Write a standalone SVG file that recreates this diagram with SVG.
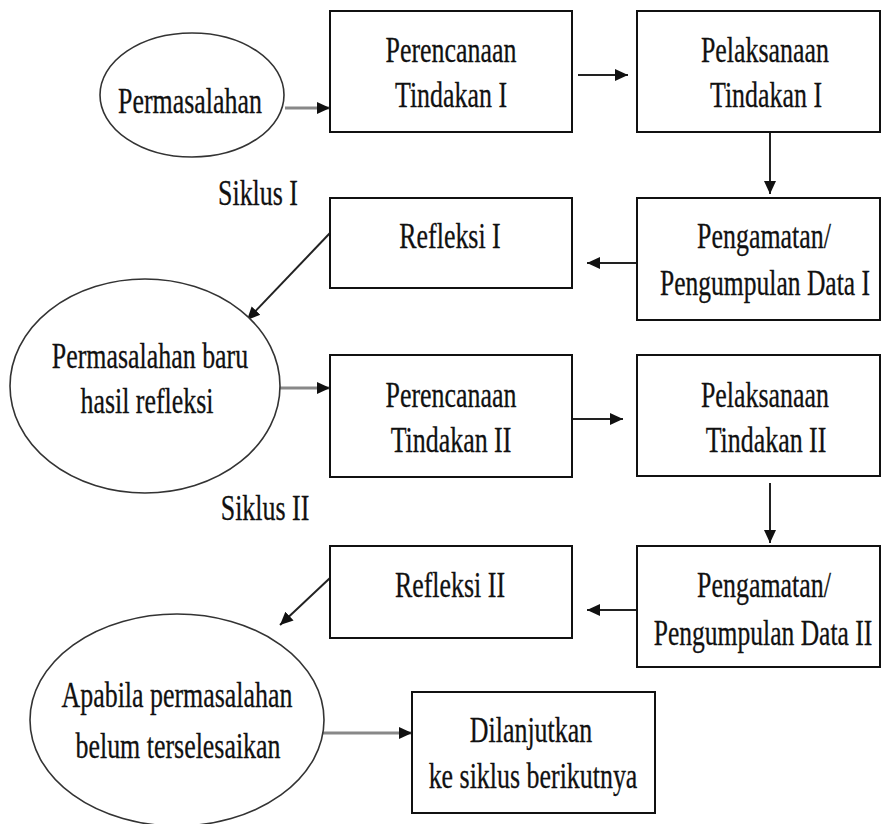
<svg xmlns="http://www.w3.org/2000/svg" width="881" height="824" viewBox="0 0 881 824">
<style>
.box{fill:#fff;stroke:#111;stroke-width:2}
.ell{fill:#fff;stroke:#333;stroke-width:1.6}
.t{font-family:"Liberation Serif","Times New Roman",serif;font-size:36px;fill:#111;stroke:#111;stroke-width:0.3;text-anchor:middle}
.c{fill:none;stroke:#222;stroke-width:2}
.cg{fill:none;stroke:#888;stroke-width:3}
</style>
<defs>
<marker id="ah" markerUnits="userSpaceOnUse" markerWidth="14" markerHeight="14" viewBox="0 0 14 14" refX="13" refY="7" orient="auto">
<path d="M0,1 L13,7 L0,13 z" fill="#111"/>
</marker>
</defs>
<rect width="881" height="824" fill="#fff"/>

<g id="connectors">
<line class="cg" x1="285" y1="108" x2="330" y2="108" marker-end="url(#ah)"/>
<line class="c" x1="578" y1="75" x2="628" y2="75" marker-end="url(#ah)"/>
<line class="c" x1="770" y1="133" x2="770" y2="194" marker-end="url(#ah)"/>
<line class="c" x1="637" y1="263" x2="587" y2="263" marker-end="url(#ah)"/>
<line class="c" x1="330" y1="233" x2="247" y2="320" marker-end="url(#ah)"/>
<line class="cg" x1="280" y1="388" x2="330" y2="388" marker-end="url(#ah)"/>
<line class="c" x1="572" y1="419" x2="623" y2="419" marker-end="url(#ah)"/>
<line class="c" x1="770" y1="483" x2="770" y2="543" marker-end="url(#ah)"/>
<line class="c" x1="637" y1="610" x2="587" y2="610" marker-end="url(#ah)"/>
<line class="c" x1="330" y1="578" x2="280" y2="625" marker-end="url(#ah)"/>
<line class="cg" x1="323" y1="733" x2="412" y2="733" marker-end="url(#ah)"/>
</g>

<g id="permasalahan">
<ellipse class="ell" cx="192" cy="95" rx="92" ry="62"/>
<text class="t" transform="translate(190,113) scale(0.72,1)">Permasalahan</text>
</g>
<g id="perencanaan1">
<rect class="box" x="330" y="11" width="242" height="121"/>
<text class="t" transform="translate(451,62) scale(0.72,1)">Perencanaan</text>
<text class="t" transform="translate(451,107) scale(0.72,1)">Tindakan I</text>
</g>
<g id="pelaksanaan1">
<rect class="box" x="637" y="11" width="243" height="121"/>
<text class="t" transform="translate(765,62) scale(0.72,1)">Pelaksanaan</text>
<text class="t" transform="translate(766,107) scale(0.72,1)">Tindakan I</text>
</g>
<g id="pengamatan1">
<rect class="box" x="637" y="198" width="243" height="122"/>
<text class="t" transform="translate(764,248) scale(0.72,1)">Pengamatan/</text>
<text class="t" transform="translate(765,295) scale(0.71,1)">Pengumpulan Data I</text>
</g>
<g id="refleksi1">
<rect class="box" x="330" y="198" width="242" height="90"/>
<text class="t" transform="translate(450,248) scale(0.72,1)">Refleksi I</text>
</g>
<g id="siklus1">
<text class="t" transform="translate(258,205) scale(0.72,1)">Siklus I</text>
</g>
<g id="permasalahan-baru">
<ellipse class="ell" cx="145" cy="386" rx="135" ry="107"/>
<text class="t" transform="translate(150,368) scale(0.72,1)">Permasalahan baru</text>
<text class="t" transform="translate(147,413) scale(0.72,1)">hasil refleksi</text>
</g>
<g id="perencanaan2">
<rect class="box" x="330" y="355" width="242" height="122"/>
<text class="t" transform="translate(451,407) scale(0.72,1)">Perencanaan</text>
<text class="t" transform="translate(451,452) scale(0.72,1)">Tindakan II</text>
</g>
<g id="pelaksanaan2">
<rect class="box" x="637" y="355" width="243" height="121"/>
<text class="t" transform="translate(765,407) scale(0.72,1)">Pelaksanaan</text>
<text class="t" transform="translate(766,452) scale(0.72,1)">Tindakan II</text>
</g>
<g id="pengamatan2">
<rect class="box" x="637" y="546" width="243" height="121"/>
<text class="t" transform="translate(764,597) scale(0.72,1)">Pengamatan/</text>
<text class="t" transform="translate(763,645) scale(0.71,1)">Pengumpulan Data II</text>
</g>
<g id="refleksi2">
<rect class="box" x="330" y="546" width="242" height="92"/>
<text class="t" transform="translate(450,597) scale(0.72,1)">Refleksi II</text>
</g>
<g id="siklus2">
<text class="t" transform="translate(265,520) scale(0.72,1)">Siklus II</text>
</g>
<g id="apabila">
<ellipse class="ell" cx="177" cy="720" rx="147" ry="106"/>
<text class="t" transform="translate(177,707) scale(0.72,1)">Apabila permasalahan</text>
<text class="t" transform="translate(178,758) scale(0.72,1)">belum terselesaikan</text>
</g>
<g id="dilanjutkan">
<rect class="box" x="412" y="692" width="243" height="121"/>
<text class="t" transform="translate(531,742) scale(0.72,1)">Dilanjutkan</text>
<text class="t" transform="translate(533,788) scale(0.72,1)">ke siklus berikutnya</text>
</g>
</svg>
